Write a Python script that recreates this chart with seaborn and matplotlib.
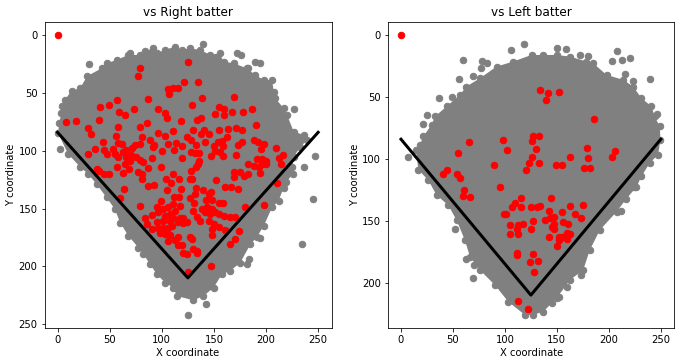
import pandas as pd
import seaborn as sns
import matplotlib
matplotlib.use("Agg")
import matplotlib.pyplot as plt

# outer edge of the grey cloud, walking clockwise
rim_right = [(1.6,75.7),(3.8,67.6),(4.5,61.3),(7,56),(13.5,48),(21.5,46),(28.5,35.3),(42.3,28.6),(47,24.3),
    (56.7,21.4),(68,17),(79,17),(84,14),(91.3,11.3),(95,15.6),(103,12.7),(112.8,9.8),(119,12.7),(127,11.3),
    (136.9,12.7),(146.5,17),(155.4,15.6),(159.3,22.8),(169,24.3),(181.7,28.6),(189.7,34.4),(197.8,38.7),
    (205.8,38.7),(207.4,48.8),(209,54.6),(217,63.3),(220.2,69),(226.6,83.5),(236.9,86.4),(239.4,90.8),
    (233,96.5),(226.6,105.2),(225,113.9),(226,119.7),(219.6,126.9),(217,131.8),(212,143.3),(205.8,149),
    (197.8,165),(191,175),(185,181),(175.3,196.8),(165.7,204),(157.7,206.9),(149.7,218.5),(140,225.7),
    (130.4,229.4),(114.4,225.7),(111.2,218.5),(103.2,214.1),(95.2,206.9),(88.8,198.2),(82.4,189.6),
    (77.6,183.8),(68,173.7),(60,162.1),(55,150.5),(47,140.4),(37.5,128.9),(29.5,120.2),(21.5,113.8),
    (10.3,102.9),(0.6,85)]
stray_right = [(30.4,24.9),(140,7.8),(172,15),(176,17),(189.7,22.8),(194.5,24.3),(183,28.6),(226.6,63.6),
    (2.6,98.5),(246.8,104.3),(236.9,113.9),(244.9,141.6),(234.3,180.9),(194.5,175.1),(183.3,193.3),
    (181.7,198),(142,232.3),(124.7,242.2),(69.6,15.6)]
red_right = [(0,0),(124.7,23.4),(79.5,28.3),(77,35),(121.5,40.8),(135,40.8),(105.8,46.5),(111,46),(116,45.4),
    (106.7,51),(169,53),(138.5,54.6),(57,56),(87,55),(129,60),(40.7,61.8),(49.7,60),(73.4,63.6),(154.5,61.8),
    (160,64),(167.6,66),(178,66),(187,64),(96,64),(59,66.8),(65,69),(103,67.4),(150.6,68.3),(160,69),(105,72),
    (137.5,71.6),(133.6,73.4),(39.7,73.4),(118.6,74),(8,74.9),(17.3,74),(57.7,79),(79.5,79),(86,76),(190.7,77.5),
    (29,80.3),(31.7,85.5),(56,87.3),(80.8,87.9),(96.8,85),(103,87),(111,82.7),(130.4,82.2),(140.7,82.2),(138,85.5),
    (145,85.5),(154.5,82.2),(163.8,81.2),(170.8,80.3),(176.6,82.2),(163,87.9),(124,87.9),(128.5,91),(88.8,90.5),
    (44,92.8),(188,90.5),(192,92.8),(198,94.5),(195,98.5),(210,97.7),(216,103.5),(212.5,106.4),(214.4,111.3),
    (29,102.6),(35.6,98.5),(45,99.4),(47,102.6),(53.5,98.5),(57.7,93.6),(61.5,94.5),(55,102.6),(58,105),(63,100.9),
    (66,99.4),(71,98),(74.4,95.4),(79,94.5),(65.7,105),(70,104),(75,105.6),(57,113.9),(65,111),(69.5,109),(79,108.1),
    (81.7,110),(91,106.5),(87,114.7),(99.7,113.8),(37.5,115.6),(39.7,117.3),(45,120.5),(49,120.5),(63,118.8),
    (69,115.6),(77.5,118),(80.8,120.5),(80.8,124.5),(91.5,96.5),(93,95),(100,100),(105.8,94.5),(112,99.4),
    (113.5,93.6),(119.5,95.7),(133,95),(141.7,92.8),(149.7,95.7),(153.6,92.2),(157.7,91.7),(158.7,95.7),(172.7,95),
    (177.2,92.8),(119.5,106),(128,101),(132,102),(136,102),(136,108.6),(135,111.3),(132.5,113.9),(128.5,117.6),
    (127,124),(129,124),(104,124),(110.6,120.5),(116.7,124),(147.4,104.6),(151,100),(156,101.1),(158.7,104.9),
    (171.5,104),(169,118.4),(169,122.8),(152,125),(175.3,118.4),(178.5,122),(183,120.5),(183,111.3),(188,113),
    (193,114.4),(194.5,119.3),(191,107),(196,107.5),(200,108.6),(196,111),(200,111.3),(160.6,131.5),(166,131),
    (172.8,132.7),(63.5,133.2),(60,141),(79.5,147.7),(87,130.9),(93,129.7),(104.8,134),(108.6,128),(118.6,133),
    (112,139.9),(116.7,139.9),(133,131.8),(132,137.5),(127,141),(131,145.3),(140,134),(144.9,137.5),(147,136),
    (142,143),(148.3,142.7),(158.7,144.8),(154.5,145.6),(180,148.8),(198,146.5),(210.6,128),(99.7,143.3),(95.2,149),
    (90.4,155.5),(96.8,153.4),(101.6,150.5),(106.4,149),(111.2,146.2),(117.6,147.7),(112.8,152),(108,154.3),
    (103.2,156.3),(111.2,157.8),(117.6,157.8),(120.8,157.8),(116,162),(120.2,162.7),(124,162),(108,160.7),
    (101.6,160.7),(95.2,162),(90.4,167.9),(84.3,157.8),(85.6,163),(96.8,166.4),(101.6,166.4),(106.4,166.4),
    (109.6,165),(98.4,170.8),(103.2,172.2),(108,173.1),(105.8,178),(112.8,177),(116,181.8),(119.5,181.8),(116,174.2),
    (127,175),(128.8,176.6),(129.5,152),(133.8,156.9),(137,160.7),(138.8,150.5),(143.6,149),(148.3,150.5),
    (141.7,153.4),(145.8,154.9),(151.3,153.4),(154.5,154.9),(159.3,156.3),(165.7,156.9),(170.5,156.9),(144.9,160.7),
    (149.7,163.6),(148.3,167.9),(148.3,172.8),(154.5,165.6),(161,168.8),(174.4,169.3),(170,176.6),(165.7,180.9),
    (119.9,188.4),(124,189),(129.8,185),(133.7,186.7),(133.7,188.4),(147.4,199.7),(125.6,204.6)]

rim_left = [(18.3,88.4),(21.5,81.7),(29.5,72.3),(32.7,65.6),(44,57.5),(56.7,48.1),(63,41.4),(76,34.7),(92,25.3),
    (108,21.2),(125.6,15.9),(136.9,15.9),(149.7,15.9),(162.5,17.2),(178.5,21.2),(185,22.6),(197.8,32),(213.8,36),
    (223.4,41.4),(231.4,50.8),(241,57.5),(244.2,65.6),(249,73.7),(249.7,84.4),(247.4,96.5),(239.4,103.2),(231.4,114),
    (226.6,122.6),(217,132),(207.4,142.7),(191.3,157.5),(181.7,173.6),(175.3,189.8),(162.5,197.8),(149.7,212.6),
    (136.9,223.4),(127.2,226),(119.2,226),(103.2,215.3),(90.4,201.9),(76,189.8),(66.4,179),(61.5,165.6),(53.5,149.4),
    (45.5,137.3),(34.3,129.3),(26.3,117.2),(16.7,108.6),(14.4,92.5)]
stray_left = [(59.6,19.6),(118.3,6.7),(105.8,12),(77.6,20.4),(82.4,22.6),(76.6,26.3),(56,35),(69,33.3),(36.9,50.8),
    (48.7,50),(24.7,64.2),(20.8,71.8),(6.4,98.4),(150.3,10.5),(158.7,11.3),(172,15.9),(180,16.7),(208,12.6),
    (202.6,20.4),(213,19.9),(220,18),(216,31.2),(223.4,36.8),(239.7,35.5),(246.8,63.4),(211.5,142.2),(224.4,122.8),
    (51.6,156.7),(62.5,181.2),(70.5,185.7),(69.6,196.2),(173.7,193.8),(160,203.7),(152,211.3),(145.5,216.1)]
red_left = [(0,0),(133.7,44.6),(141,47),(152,46),(140,52),(186,68),(65.4,86.3),(98.4,84.7),(127.2,81.7),(132.4,81),
    (125.6,85.8),(130,91.7),(102.2,93),(55,95.4),(178.8,90.9),(206,93.8),(202.6,98.4),(162.5,98.4),(179.8,99.2),
    (125.6,98.4),(123.4,103),(132.4,103.5),(89.4,104.6),(149,104.6),(155.4,104.6),(120.2,109),(176,107.5),(182,107.5),
    (44.2,109),(40.7,112),(54.2,112),(57,115),(60.6,124.7),(59.6,129.6),(66,130.4),(95,122.8),(115.7,131.7),
    (144.6,131.7),(109.3,135.5),(106.7,138.4),(115.7,138.4),(124.7,138.4),(130.4,139),(134,137.9),(162.8,137.9),
    (174.7,137.2),(142.6,141.7),(154.5,143),(167.3,144.7),(99.4,144.7),(101,144.7),(172.8,147.6),(146.8,146.8),
    (143.6,148),(138.5,149.5),(127.5,150),(156,150.9),(161,152.4),(147.4,152.4),(104.8,153),(112.2,153),(117.3,152.4),
    (111.2,156.3),(124.7,156.8),(144.9,155),(146.8,156.8),(104.8,160.9),(112.2,160.9),(142.6,163),(151.6,163),
    (159.3,159.8),(162.5,160.9),(154.5,163),(159.3,164.3),(152.2,165.6),(150.3,170.6),(111.2,175.7),(111.2,177.8),
    (126.6,176.5),(132,182.2),(124,183.5),(127.6,191.3),(112.2,214.8),(122,221)]

plate_x = [0, 125, 250]
plate_y = [84, 210, 84]
ticks_x = [0, 50, 100, 150, 200, 250]


def desenha(ax, rim, stray, red, titulo, ylim, ticks_y):
    df_rim = pd.DataFrame(rim, columns=["x", "y"])
    df_stray = pd.DataFrame(stray, columns=["x", "y"])
    df_red = pd.DataFrame(red, columns=["x", "y"])

    ax.fill(df_rim["x"], df_rim["y"], color="gray", lw=0)
    sns.scatterplot(data=pd.concat([df_rim, df_stray]), x="x", y="y", color="gray",
                    edgecolor="gray", s=42, linewidth=1, ax=ax)
    sns.scatterplot(data=df_red, x="x", y="y", color="red", edgecolor="red", s=42, linewidth=1, ax=ax)
    sns.lineplot(x=plate_x, y=plate_y, color="black", lw=3, sort=False, estimator=None, ax=ax)

    ax.set_xlim(-12.5, 263)
    ax.set_ylim(*ylim)
    ax.set_xticks(ticks_x)
    ax.set_yticks(ticks_y)
    ax.set_title(titulo, fontsize=12)
    ax.set_xlabel("X coordinate", labelpad=3)
    ax.set_ylabel("Y coordinate", labelpad=2)


fig = plt.figure(figsize=(680 / 72, 364 / 72), dpi=72)
ax1 = fig.add_axes([44.5 / 680, 1 - 328 / 364, 287.2 / 680, 306 / 364])
ax2 = fig.add_axes([388 / 680, 1 - 328 / 364, 286.3 / 680, 306 / 364])

desenha(ax1, rim_right, stray_right, red_right, "vs Right batter", (253.4, -11.5), [0, 50, 100, 150, 200, 250])
desenha(ax2, rim_left, stray_left, red_left, "vs Left batter", (236.6, -10.75), [0, 50, 100, 150, 200])

fig.savefig("out.png", dpi=72)
